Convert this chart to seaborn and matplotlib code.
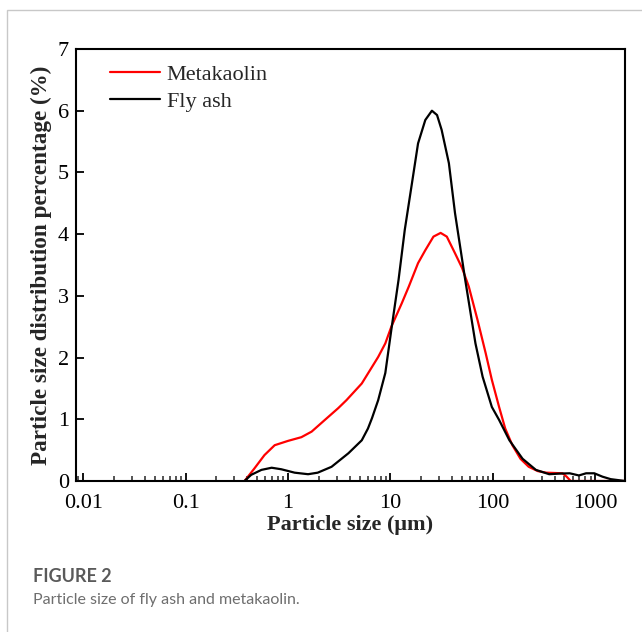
import matplotlib
matplotlib.use("Agg")
import matplotlib.pyplot as plt
import matplotlib.ticker as mticker
from matplotlib.patches import Rectangle
import numpy as np
import pandas as pd
import seaborn as sns

# ---- data ----
mk_size = [0.376, 0.468, 0.589, 0.741, 1.0, 1.35, 1.70, 2.29, 3.09, 3.72, 5.25, 7.59,
           8.91, 10.2, 12.9, 15.1, 18.6, 21.9, 26.3, 30.9, 35.5, 42.7, 50.1, 58.2,
           70.8, 85.1, 97.7, 115, 132, 155, 186, 224, 275, 331, 479, 525, 575, 2000]
mk_pct = [0, 0.20, 0.42, 0.58, 0.65, 0.71, 0.80, 0.99, 1.18, 1.31, 1.58, 2.01,
          2.23, 2.50, 2.88, 3.15, 3.53, 3.74, 3.96, 4.02, 3.96, 3.69, 3.45, 3.15,
          2.61, 2.07, 1.64, 1.20, 0.85, 0.58, 0.36, 0.23, 0.16, 0.135, 0.125, 0.07, 0, 0]

fa_size = [0.376, 0.437, 0.550, 0.692, 0.861, 1.16, 1.57, 1.95, 2.66, 3.89, 5.25, 6.03,
           6.61, 7.59, 8.91, 10.2, 12.0, 13.8, 16.2, 18.6, 21.9, 25.4, 28.5, 31.6,
           37.2, 42.7, 53.7, 67.6, 79.4, 97.7, 115, 145, 195, 263, 355, 447, 562,
           692, 813, 977, 1175, 1413, 1950]
fa_pct = [0, 0.10, 0.18, 0.215, 0.19, 0.135, 0.11, 0.135, 0.23, 0.45, 0.66, 0.85,
          1.02, 1.31, 1.75, 2.45, 3.26, 4.07, 4.82, 5.47, 5.85, 6.0, 5.93, 5.69,
          5.15, 4.34, 3.26, 2.23, 1.69, 1.20, 0.99, 0.66, 0.36, 0.18, 0.11, 0.12, 0.125,
          0.09, 0.125, 0.125, 0.07, 0.03, 0]

series_names = ["Metakaolin", "Fly ash"]
series_colors = ["#ff0000", "#000000"]
x_ticks = [0.01, 0.1, 1, 10, 100, 1000]
x_tick_labels = ["0.01", "0.1", "1", "10", "100", "1000"]
y_ticks = [0, 1, 2, 3, 4, 5, 6, 7]

df = pd.concat([
    pd.DataFrame({"size": mk_size, "pct": mk_pct, "series": series_names[0]}),
    pd.DataFrame({"size": fa_size, "pct": fa_pct, "series": series_names[1]}),
], ignore_index=True)

sns.set_style("ticks")
plt.rcParams["font.family"] = ["Liberation Serif", "DejaVu Serif"]

fig = plt.figure(figsize=(6.42, 6.32), dpi=100)
ax = fig.add_axes([76 / 642, 1 - 481 / 632, (625 - 76) / 642, (481 - 49) / 632])

sns.lineplot(data=df, x="size", y="pct", hue="series", hue_order=series_names,
             palette=series_colors, linewidth=1.6, sort=False, estimator=None,
             ax=ax)
for ln in ax.get_lines():
    ln.set_solid_joinstyle("round")

ax.set_xscale("log")
ax.set_xlim(10 ** -2.07, 10 ** 3.29)
ax.set_ylim(0, 7)
ax.set_xticks(x_ticks)
ax.set_xticklabels(x_tick_labels)
ax.xaxis.set_minor_locator(mticker.LogLocator(base=10, subs=np.arange(2, 10)))
ax.xaxis.set_minor_formatter(mticker.NullFormatter())
ax.set_yticks(y_ticks)
ax.set_yticklabels([str(v) for v in y_ticks])

ax.tick_params(axis="both", which="major", direction="in", length=6, width=1.3,
               labelsize=16, color="black", labelcolor="black",
               top=False, right=False)
ax.tick_params(axis="x", which="major", pad=9)
ax.tick_params(axis="y", which="major", pad=5)
ax.tick_params(axis="x", which="minor", direction="in", length=3.5, width=1.1,
               top=False)
for s in ax.spines.values():
    s.set_linewidth(1.5)
    s.set_color("black")

ax.set_xlabel("Particle size (μm)", fontsize=16, fontweight="bold", labelpad=2)
ax.set_ylabel("Particle size distribution percentage (%)", fontsize=16.7,
              fontweight="bold", labelpad=4)

leg = ax.legend(loc="upper left", frameon=False, fontsize=16, handlelength=2.25,
                handletextpad=0.3, borderaxespad=0.0, bbox_to_anchor=(0.046, 0.985),
                labelspacing=0.3)
for h in leg.get_lines():
    h.set_linewidth(1.6)

# outer card frame
fig.patches.append(Rectangle((7 / 642, -0.1), 1.2, 1 - 10 / 632 + 0.1,
                             transform=fig.transFigure, fill=False,
                             edgecolor="#c8c8c8", linewidth=1.0))

fig.text(33 / 642, 1 - 576 / 632, "FIGURE 2", fontsize=13, fontweight="bold",
         color="#5a5a5a", family=["Lato", "DejaVu Sans"], va="center")
fig.text(33 / 642, 1 - 600 / 632, "Particle size of fly ash and metakaolin.",
         fontsize=11.5, color="#6e6e6e", family=["Lato", "DejaVu Sans"],
         va="center")

fig.savefig("out.png", dpi=100)
